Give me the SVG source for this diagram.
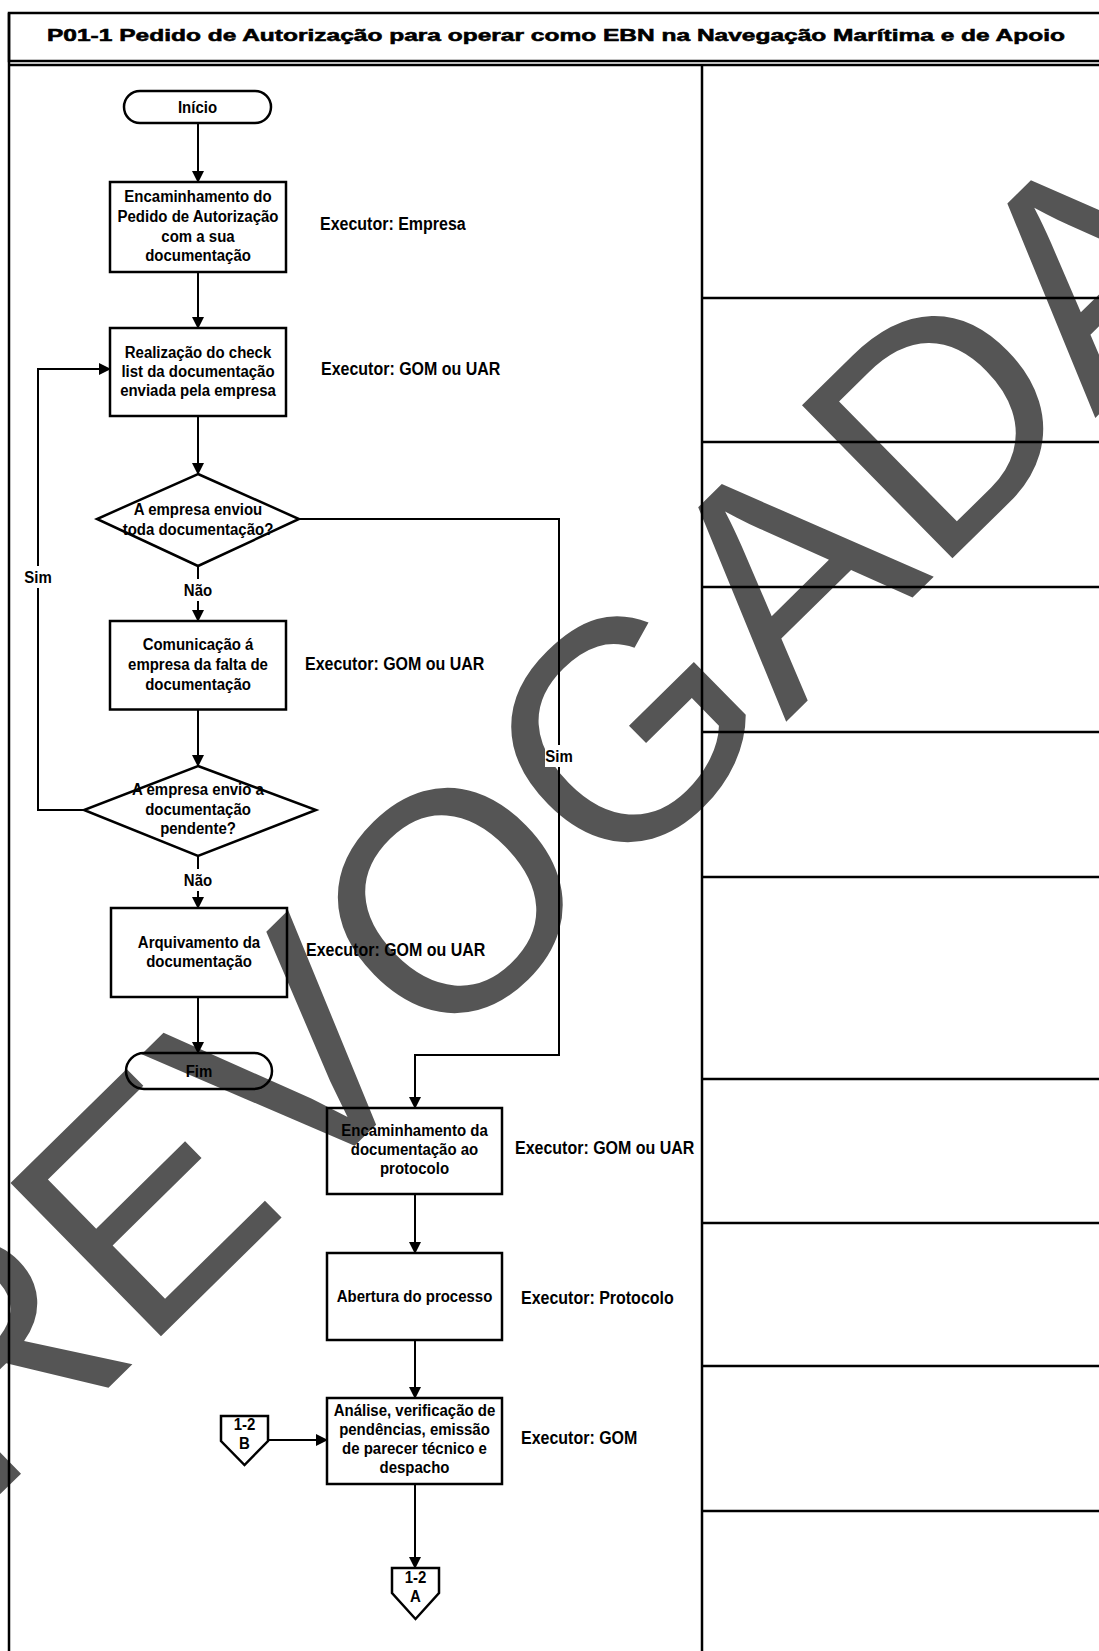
<svg xmlns="http://www.w3.org/2000/svg" width="1099" height="1651" viewBox="0 0 1099 1651">
<style>
.t{font-family:"Liberation Sans",Arial,sans-serif;font-weight:bold;font-size:15px;fill:#000;text-anchor:middle;dominant-baseline:central}
.lb{font-family:"Liberation Sans",Arial,sans-serif;font-weight:bold;font-size:16px;fill:#000;dominant-baseline:central}
.box{fill:none;stroke:#000;stroke-width:2.5}
.ln{fill:none;stroke:#000;stroke-width:2}
.frame{fill:none;stroke:#000;stroke-width:2.5}
.wm{font-family:"Liberation Sans",Arial,sans-serif;font-size:312px;fill:#555}
</style>
<defs>
<marker id="ah" markerUnits="userSpaceOnUse" markerWidth="12" markerHeight="12" refX="11" refY="6" orient="auto">
<path d="M0,0 L12,6 L0,12 Z" fill="#000"/>
</marker>
</defs>
<rect width="1099" height="1651" fill="#fff"/>
<g id="watermark">
<text class="wm" transform="translate(-18,1512) rotate(-44.5)">REVOGADA</text>
</g>
<g id="frame">
<rect class="frame" x="9" y="13" width="1100" height="48" stroke-width="1.5"/>
<line class="frame" x1="9" y1="65" x2="1099" y2="65"/>
<line class="frame" x1="9" y1="13" x2="9" y2="1651"/>
<line class="frame" x1="702" y1="65" x2="702" y2="1651" stroke-width="3"/>
<line class="frame" x1="702" y1="298" x2="1099" y2="298"/>
<line class="frame" x1="702" y1="442" x2="1099" y2="442"/>
<line class="frame" x1="702" y1="587" x2="1099" y2="587"/>
<line class="frame" x1="702" y1="732" x2="1099" y2="732"/>
<line class="frame" x1="702" y1="877" x2="1099" y2="877"/>
<line class="frame" x1="702" y1="1079" x2="1099" y2="1079"/>
<line class="frame" x1="702" y1="1223" x2="1099" y2="1223"/>
<line class="frame" x1="702" y1="1366" x2="1099" y2="1366"/>
<line class="frame" x1="702" y1="1511" x2="1099" y2="1511"/>
<text class="t" transform="translate(556,35) scale(1,1.15)" font-size="26" stroke="#000" stroke-width="0.5" textLength="1018" lengthAdjust="spacingAndGlyphs">P01-1 Pedido de Autorização para operar como EBN na Navegação Marítima e de Apoio</text>
</g>
<g id="connectors">
<line class="ln" x1="198" y1="123" x2="198" y2="182" marker-end="url(#ah)"/>
<line class="ln" x1="198" y1="272" x2="198" y2="328" marker-end="url(#ah)"/>
<line class="ln" x1="198" y1="416" x2="198" y2="474" marker-end="url(#ah)"/>
<line class="ln" x1="198" y1="566" x2="198" y2="621" marker-end="url(#ah)"/>
<line class="ln" x1="198" y1="709" x2="198" y2="766" marker-end="url(#ah)"/>
<line class="ln" x1="198" y1="856" x2="198" y2="908" marker-end="url(#ah)"/>
<line class="ln" x1="198" y1="997" x2="198" y2="1053" marker-end="url(#ah)"/>
<path class="ln" d="M84,810 H38 V369 H110" marker-end="url(#ah)"/>
<path class="ln" d="M299,519 H559 V1055 H415 V1108" marker-end="url(#ah)"/>
<line class="ln" x1="415" y1="1194" x2="415" y2="1253" marker-end="url(#ah)"/>
<line class="ln" x1="415" y1="1340" x2="415" y2="1398" marker-end="url(#ah)"/>
<line class="ln" x1="268" y1="1440" x2="327" y2="1440" marker-end="url(#ah)"/>
<line class="ln" x1="415" y1="1484" x2="415" y2="1568" marker-end="url(#ah)"/>
<rect x="24" y="566" width="29" height="22" fill="#fff"/>
<text class="t" transform="translate(38,577) scale(1,1.12)">Sim</text>
<rect x="545" y="745" width="29" height="22" fill="#fff"/>
<text class="t" transform="translate(559,756) scale(1,1.12)">Sim</text>
<rect x="183" y="579" width="31" height="22" fill="#fff"/>
<text class="t" transform="translate(198,590) scale(1,1.12)">Não</text>
<rect x="183" y="869" width="31" height="22" fill="#fff"/>
<text class="t" transform="translate(198,880) scale(1,1.12)">Não</text>
</g>
<g id="inicio">
<rect class="box" x="124" y="91" width="147" height="32" rx="16"/>
<text class="t" transform="translate(197.5,107) scale(1,1.12)">Início</text>
</g>
<g id="n1">
<rect class="box" x="110" y="182" width="176" height="90"/>
<text class="t" transform="translate(198,196) scale(1,1.12)">Encaminhamento do</text>
<text class="t" transform="translate(198,216) scale(1,1.12)">Pedido de Autorização</text>
<text class="t" transform="translate(198,236) scale(1,1.12)">com a  sua</text>
<text class="t" transform="translate(198,255) scale(1,1.12)">documentação</text>
<text class="lb" transform="translate(320,224) scale(1,1.12)">Executor: Empresa</text>
</g>
<g id="n2">
<rect class="box" x="110" y="328" width="176" height="88"/>
<text class="t" transform="translate(198,352) scale(1,1.12)">Realização do check</text>
<text class="t" transform="translate(198,371) scale(1,1.12)">list da documentação</text>
<text class="t" transform="translate(198,390) scale(1,1.12)">enviada pela empresa</text>
<text class="lb" transform="translate(321,369) scale(1,1.12)">Executor: GOM ou UAR</text>
</g>
<g id="d1">
<polygon class="box" points="198,474 299,519 198,566 97,519"/>
<text class="t" transform="translate(198,509.5) scale(1,1.12)">A empresa enviou</text>
<text class="t" transform="translate(198,529.5) scale(1,1.12)">toda documentação?</text>
</g>
<g id="n3">
<rect class="box" x="110" y="621" width="176" height="88.5"/>
<text class="t" transform="translate(198,644) scale(1,1.12)">Comunicação á</text>
<text class="t" transform="translate(198,664) scale(1,1.12)">empresa da falta de</text>
<text class="t" transform="translate(198,684) scale(1,1.12)">documentação</text>
<text class="lb" transform="translate(305,664) scale(1,1.12)">Executor: GOM ou UAR</text>
</g>
<g id="d2">
<polygon class="box" points="198,766 316,810 198,856 84,810"/>
<text class="t" transform="translate(198,789.5) scale(1,1.12)">A empresa envio a</text>
<text class="t" transform="translate(198,809.5) scale(1,1.12)">documentação</text>
<text class="t" transform="translate(198,828.5) scale(1,1.12)">pendente?</text>
</g>
<g id="n4">
<rect class="box" x="111" y="908" width="176" height="89"/>
<text class="t" transform="translate(199,942) scale(1,1.12)">Arquivamento da</text>
<text class="t" transform="translate(199,961) scale(1,1.12)">documentação</text>
<text class="lb" transform="translate(306,950) scale(1,1.12)">Executor: GOM ou UAR</text>
</g>
<g id="fim">
<rect class="box" x="126" y="1053" width="146" height="36" rx="18"/>
<text class="t" transform="translate(199,1071) scale(1,1.12)">Fim</text>
</g>
<g id="n5">
<rect class="box" x="327" y="1108" width="175" height="86"/>
<text class="t" transform="translate(414.5,1130.5) scale(1,1.12)">Encaminhamento da</text>
<text class="t" transform="translate(414.5,1149.5) scale(1,1.12)">documentação ao</text>
<text class="t" transform="translate(414.5,1168.5) scale(1,1.12)">protocolo</text>
<text class="lb" transform="translate(515,1148) scale(1,1.12)">Executor: GOM ou UAR</text>
</g>
<g id="n6">
<rect class="box" x="327" y="1253" width="175" height="87"/>
<text class="t" transform="translate(414.5,1296) scale(1,1.12)">Abertura do processo</text>
<text class="lb" transform="translate(521,1298) scale(1,1.12)">Executor: Protocolo</text>
</g>
<g id="n7">
<rect class="box" x="327" y="1398" width="175" height="86"/>
<text class="t" transform="translate(414.5,1410) scale(1,1.12)">Análise, verificação de</text>
<text class="t" transform="translate(414.5,1429) scale(1,1.12)">pendências, emissão</text>
<text class="t" transform="translate(414.5,1448) scale(1,1.12)">de parecer técnico e</text>
<text class="t" transform="translate(414.5,1467) scale(1,1.12)">despacho</text>
<text class="lb" transform="translate(521,1438) scale(1,1.12)">Executor: GOM</text>
</g>
<g id="conB">
<polygon class="box" points="221,1416 268,1416 268,1441 244.5,1465 221,1441"/>
<text class="t" transform="translate(244.5,1424) scale(1,1.12)" font-size="14">1-2</text>
<text class="t" transform="translate(244.5,1443) scale(1,1.12)" font-size="14">B</text>
</g>
<g id="conA">
<polygon class="box" points="392,1568 439,1568 439,1593 415.5,1619 392,1593"/>
<text class="t" transform="translate(415.5,1577) scale(1,1.12)" font-size="14">1-2</text>
<text class="t" transform="translate(415.5,1596) scale(1,1.12)" font-size="14">A</text>
</g>
</svg>
